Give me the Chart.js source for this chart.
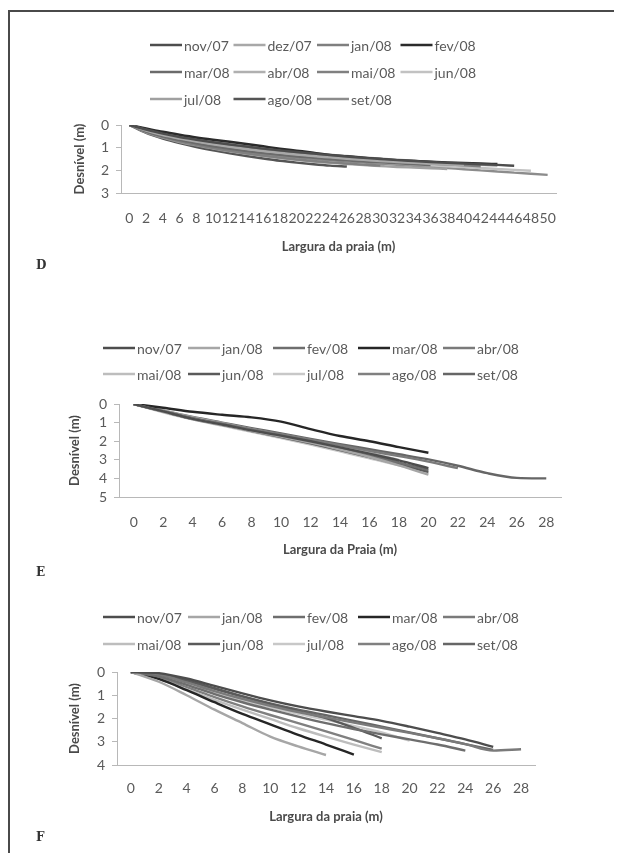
<!DOCTYPE html>
<html>
<head>
<meta charset="utf-8">
<script src="https://cdn.jsdelivr.net/npm/chart.js@4.4.0/dist/chart.umd.min.js"></script>
<style>
  html, body { margin: 0; padding: 0; background: #fff; }
  #page { position: relative; width: 627px; height: 853px; overflow: hidden; background: #fff; }
  .frameL { position: absolute; left: 8px; top: 10px; width: 2px; height: 843px; background: #4a4a4a; }
  .frameT { position: absolute; left: 8px; top: 10px; width: 606px; height: 2px; background: #4a4a4a; }
  canvas { position: absolute; left: 0; }
  .panel { position: absolute; left: 36px; font-family: "DejaVu Serif", "Liberation Serif", serif; font-weight: bold; font-size: 12px; color: #333; }
</style>
</head>
<body>
<div id="page">
  <div class="frameL"></div>
  <div class="frameT"></div>
  <canvas id="cD" width="627" height="262" style="top:0px"></canvas>
  <canvas id="cE" width="627" height="270" style="top:290px"></canvas>
  <canvas id="cF" width="627" height="255" style="top:580px"></canvas>
  <div class="panel" style="top:258px">D</div>
  <div class="panel" style="top:565px">E</div>
  <div class="panel" style="top:830px">F</div>
</div>
<script>
// ---------- Panel D : x categories 0..50 ----------
const D_labels = ['0','2','4','6','8','10','12','14','16','18','20','22','24','26','28','30','32','34','36','38','40','42','44','46','48','50'];
const D_nov07 = [0,0.2,0.38,0.53,0.65,0.76,0.86,0.95,1.04,1.12,1.19,1.26,1.33,1.39,1.45,1.5,1.55,1.59,1.63,1.67,1.7,1.73,1.76,1.8];
const D_dez07 = [0,0.25,0.45,0.6,0.73,0.85,0.96,1.06,1.15,1.23,1.3,1.37,1.43,1.49,1.54,1.59,1.63,1.67,1.71,1.74,1.77];
const D_jan08 = [0,0.22,0.42,0.58,0.71,0.83,0.93,1.02,1.11,1.19,1.27,1.34,1.4,1.46,1.52,1.57,1.62,1.66,1.7,1.74,1.78,1.82];
const D_fev08 = [0,0.15,0.3,0.43,0.55,0.65,0.74,0.84,0.94,1.04,1.13,1.22,1.32,1.38,1.44,1.5,1.55,1.59,1.62,1.65,1.67,1.7,1.72];
const D_mar08 = [0,0.28,0.5,0.67,0.81,0.94,1.05,1.15,1.24,1.32,1.39,1.45,1.51,1.56,1.61,1.65,1.69,1.73,1.77];
const D_abr08 = [0,0.18,0.36,0.5,0.62,0.73,0.83,0.92,1.01,1.09,1.17,1.24,1.31,1.37,1.43,1.48,1.53,1.58,1.63,1.68,1.72,1.76,1.8];
const D_mai08 = [0,0.3,0.53,0.72,0.88,1.02,1.14,1.25,1.35,1.44,1.52,1.59,1.65,1.7,1.75,1.79];
const D_jun08 = [0,0.26,0.47,0.63,0.77,0.9,1.01,1.11,1.2,1.28,1.36,1.43,1.49,1.55,1.6,1.65,1.7,1.74,1.78,1.82,1.86,1.9,1.94,1.98,2.02];
const D_jul08 = [0,0.32,0.56,0.75,0.9,1.04,1.16,1.27,1.37,1.46,1.54,1.61,1.67,1.72,1.77,1.81,1.85,1.88,1.91,1.94];
const D_ago08 = [0,0.35,0.6,0.8,0.97,1.12,1.25,1.37,1.48,1.58,1.66,1.73,1.79,1.83];
const D_set08 = [0,0.3,0.52,0.7,0.85,0.98,1.1,1.2,1.29,1.37,1.44,1.5,1.56,1.61,1.66,1.71,1.76,1.8,1.85,1.9,1.95,2.0,2.05,2.1,2.15,2.2];

// ---------- Panel E : x categories 0..28 ----------
const E_labels = ['0','2','4','6','8','10','12','14','16','18','20','22','24','26','28'];
const E_nov07 = [0,0.4,0.8,1.1,1.42,1.7,2.0,2.33,2.67,3.03,3.45];
const E_jan08 = [0,0.42,0.82,1.13,1.45,1.75,2.08,2.45,2.85,3.3,3.8];
const E_fev08 = [0,0.38,0.78,1.1,1.42,1.72,2.03,2.4,2.78,3.15,3.55];
const E_mar08 = [0,0.2,0.42,0.58,0.72,0.95,1.35,1.72,2.0,2.32,2.62];
const E_abr08 = [0,0.38,0.75,1.05,1.35,1.62,1.92,2.22,2.52,2.8,3.1,3.45];
const E_mai08 = [0,0.36,0.72,1.03,1.35,1.65,1.95,2.28,2.62,3.0];
const E_jun08 = [0,0.4,0.8,1.12,1.45,1.78,2.12,2.48,2.86,3.25,3.65];
const E_jul08 = [0,0.45,0.83,1.16,1.5,1.83,2.18,2.55,2.92,3.3,3.72];
const E_ago08 = [0,0.38,0.76,1.08,1.4,1.72,2.05,2.38,2.72,3.1];
const E_set08 = [0,0.35,0.7,1.0,1.3,1.58,1.88,2.16,2.43,2.7,2.98,3.32,3.72,3.97,4.0];

// ---------- Panel F : x categories 0..28 ----------
const F_labels = ['0','2','4','6','8','10','12','14','16','18','20','22','24','26','28'];
const F_nov07 = [0,0.05,0.28,0.6,0.92,1.22,1.48,1.7,1.9,2.1,2.35,2.62,2.9,3.22];
const F_jan08 = [0,0.42,1.0,1.62,2.2,2.78,3.2,3.57];
const F_fev08 = [0,0.2,0.55,0.95,1.3,1.62,1.92,2.2,2.45,2.68,2.9,3.12,3.38];
const F_mar08 = [0,0.3,0.78,1.3,1.8,2.25,2.7,3.12,3.55];
const F_abr08 = [0,0.12,0.45,0.82,1.15,1.45,1.72,1.95,2.18,2.4,2.62,2.85,3.1,3.38,3.32];
const F_mai08 = [0,0.3,0.75,1.2,1.62,2.02,2.42,2.78,3.12,3.45];
const F_jun08 = [0,0.08,0.35,0.7,1.05,1.38,1.68,1.98,2.4,2.85];
const F_jul08 = [0,0.15,0.5,0.88,1.22,1.52,1.8,2.05,2.32,2.6,2.95];
const F_ago08 = [0,0.25,0.65,1.08,1.48,1.85,2.2,2.55,2.92,3.3];
const F_set08 = [0,0.1,0.38,0.72,1.05,1.35,1.62,1.86,2.1,2.35,2.6,2.85,3.1,3.35];

const C = { nov07:'#4d4d4d', dez07:'#a8a8a8', jan08:'#7f7f7f', fev08:'#2b2b2b', mar08:'#6b6b6b', abr08:'#b0b0b0',
            mai08:'#808080', jun08:'#c2c2c2', jul08:'#a0a0a0', ago08:'#555555', set08:'#8c8c8c' };
const CE = { nov07:'#4d4d4d', jan08:'#a6a6a6', fev08:'#6e6e6e', mar08:'#262626', abr08:'#7a7a7a',
             mai08:'#bdbdbd', jun08:'#5a5a5a', jul08:'#c8c8c8', ago08:'#808080', set08:'#666666' };

const gridLegend = {
  id: 'gridLegend',
  afterDraw(chart, args, opts) {
    const ctx = chart.ctx;
    ctx.save();
    ctx.font = opts.font;
    ctx.textBaseline = 'middle';
    ctx.textAlign = 'left';
    chart.data.datasets.forEach((ds, i) => {
      const r = Math.floor(i / opts.cols), c = i % opts.cols;
      const x = opts.x + c * opts.dx, y = opts.y + r * opts.dy;
      ctx.strokeStyle = ds.borderColor;
      ctx.lineWidth = 2.5;
      ctx.beginPath(); ctx.moveTo(x, y); ctx.lineTo(x + opts.len, y); ctx.stroke();
      ctx.fillStyle = opts.color;
      ctx.fillText(ds.label, x + opts.len + 2, y + 1);
    });
    ctx.restore();
  }
};

function ds(label, data, color) {
  return { label, data, borderColor: color, backgroundColor: color, borderWidth: 2.4,
           pointRadius: 0, pointHoverRadius: 0, fill: false, cubicInterpolationMode: 'monotone' };
}

const tickColor = '#5a5a5a';
const axisColor = '#b8b8b8';

function makeChart(id, labels, datasets, cfg) {
  return new Chart(document.getElementById(id), {
    type: 'line',
    data: { labels, datasets },
    plugins: [gridLegend],
    options: {
      responsive: false, animation: false,
      layout: { padding: { top: cfg.top, left: cfg.padL, right: cfg.padR, bottom: 0 } },
      plugins: {
        legend: { display: false }, tooltip: { enabled: false },
        gridLegend: cfg.legend
      },
      scales: {
        x: {
          type: 'category', offset: true,
          grid: { display: false, drawTicks: false },
          border: { display: true, color: axisColor, width: 1 },
          ticks: { autoSkip: false, maxRotation: 0, minRotation: 0, padding: cfg.xTickPad,
                   color: tickColor, font: { family: 'Lato', size: 14 } },
          title: { display: true, text: cfg.xTitle, color: '#4a4a4a',
                   font: { family: 'Lato', size: 13, weight: 'bold' }, padding: { top: 0, bottom: cfg.xTitlePadB } },
          afterFit: (s) => { s.height = cfg.xH; }
        },
        y: {
          reverse: true, min: 0, max: cfg.yMax,
          grid: { drawOnChartArea: false, drawTicks: true, tickLength: 5, color: axisColor },
          border: { display: true, color: axisColor, width: 1 },
          ticks: { stepSize: 1, autoSkip: false, padding: 7, color: tickColor, font: { family: 'Lato', size: 14 } },
          title: { display: true, text: 'Desnível (m)', color: '#4a4a4a',
                   font: { family: 'Lato', size: 13, weight: 'bold' }, padding: { top: 2, bottom: 0 } },
          afterFit: (s) => { s.width = cfg.yW; }
        }
      }
    }
  });
}

const legendFont = '14px Lato';

makeChart('cD', D_labels, [
  ds('nov/07', D_nov07, C.nov07), ds('dez/07', D_dez07, C.dez07), ds('jan/08', D_jan08, C.jan08),
  ds('fev/08', D_fev08, C.fev08), ds('mar/08', D_mar08, C.mar08), ds('abr/08', D_abr08, C.abr08),
  ds('mai/08', D_mai08, C.mai08), ds('jun/08', D_jun08, C.jun08), ds('jul/08', D_jul08, C.jul08),
  ds('ago/08', D_ago08, C.ago08), ds('set/08', D_set08, C.set08)
], { top: 125, padL: 70, yW: 51, padR: 71, xH: 69, yMax: 3, xTickPad: 17, xTitlePadB: 7,
     xTitle: 'Largura da praia (m)',
     legend: { x: 150, y: 45, dx: 83.5, dy: 27, cols: 4, len: 32, font: legendFont, color: tickColor } });

const eSets = (P) => [
  ds('nov/07', P.nov07, CE.nov07), ds('jan/08', P.jan08, CE.jan08), ds('fev/08', P.fev08, CE.fev08),
  ds('mar/08', P.mar08, CE.mar08), ds('abr/08', P.abr08, CE.abr08), ds('mai/08', P.mai08, CE.mai08),
  ds('jun/08', P.jun08, CE.jun08), ds('jul/08', P.jul08, CE.jul08), ds('ago/08', P.ago08, CE.ago08),
  ds('set/08', P.set08, CE.set08)
];

makeChart('cE', E_labels, eSets({ nov07:E_nov07, jan08:E_jan08, fev08:E_fev08, mar08:E_mar08, abr08:E_abr08,
  mai08:E_mai08, jun08:E_jun08, jul08:E_jul08, ago08:E_ago08, set08:E_set08 }),
  { top: 114, padL: 65, yW: 54, padR: 66, xH: 63, yMax: 5, xTickPad: 17, xTitlePadB: 2,
    xTitle: 'Largura da Praia (m)',
    legend: { x: 103, y: 58, dx: 85, dy: 26, cols: 5, len: 32, font: legendFont, color: tickColor } });

makeChart('cF', F_labels, eSets({ nov07:F_nov07, jan08:F_jan08, fev08:F_fev08, mar08:F_mar08, abr08:F_abr08,
  mai08:F_mai08, jun08:F_jun08, jul08:F_jul08, ago08:F_ago08, set08:F_set08 }),
  { top: 92, padL: 65, yW: 52, padR: 92, xH: 70, yMax: 4, xTickPad: 15, xTitlePadB: 10,
    xTitle: 'Largura da praia (m)',
    legend: { x: 103, y: 37, dx: 85, dy: 27, cols: 5, len: 32, font: legendFont, color: tickColor } });
</script>
</body>
</html>
